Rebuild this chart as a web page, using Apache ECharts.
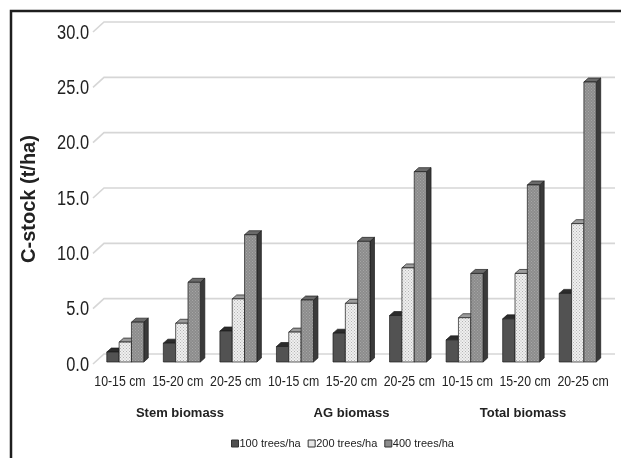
<!DOCTYPE html>
<html>
<head>
<meta charset="utf-8">
<script src="https://cdn.jsdelivr.net/npm/echarts@6/dist/echarts.min.js"></script>
<style>
  html, body { margin: 0; padding: 0; background: #fff; }
  #chart { width: 621px; height: 458px; }
</style>
</head>
<body>
<div id="chart"></div>
<script>
// Carbon stock by stem diameter class, grouped by biomass component
const categories = ['10-15 cm', '15-20 cm', '20-25 cm',
                    '10-15 cm', '15-20 cm', '20-25 cm',
                    '10-15 cm', '15-20 cm', '20-25 cm'];
const groups = ['Stem biomass', 'AG biomass', 'Total biomass'];
const seriesNames = ['100 trees/ha', '200 trees/ha', '400 trees/ha'];
const d100 = [0.9, 1.7, 2.8, 1.4, 2.6, 4.2, 2.0, 3.9, 6.2];
const d200 = [1.8, 3.5, 5.7, 2.7, 5.3, 8.5, 4.0, 8.0, 12.5];
const d400 = [3.6, 7.2, 11.5, 5.6, 10.9, 17.2, 8.0, 16.0, 25.3];
const yTicks = [0, 5, 10, 15, 20, 25, 30];

const SANS = '"Liberation Sans", Arial, sans-serif';
const NARROW_SCALE = 0.82;       // horizontal squeeze for the condensed tick text

// small tiled textures for the bar faces
function dotPattern(base, dot, size) {
  const c = document.createElement('canvas');
  c.width = size; c.height = size;
  const g = c.getContext('2d');
  g.fillStyle = base; g.fillRect(0, 0, size, size);
  g.fillStyle = dot;
  g.fillRect(0, 0, 1, 1);
  g.fillRect(size / 2, size / 2, 1, 1);
  return { image: c, repeat: 'repeat' };
}

const faceStyles = [
  { front: '#525252', top: '#2c2c2c', side: '#262626', legend: '#505050' },
  { front: dotPattern('#efefef', '#b4b4b4', 3), top: '#9c9c9c', side: '#6a6a6a', legend: '#e6e6e6' },
  { front: dotPattern('#8c8c8c', '#a6a6a6', 3), top: '#6a6a6a', side: '#3a3a3a', legend: '#8c8c8c' }
];

const DX = 4.5, DY = 4;          // depth offset of the bar prisms
const BAR_SHARE = 0.218;         // width of one bar relative to the category band

function makeBarSeries(k, values) {
  const st = faceStyles[k];
  return {
    name: seriesNames[k],
    type: 'custom',
    xAxisIndex: 1,
    yAxisIndex: 1,
    data: values.map((v, i) => [i, v]),
    encode: { x: 0, y: 1 },
    itemStyle: { color: st.legend },
    z: 3,
    renderItem: function (params, api) {
      const i = api.value(0), v = api.value(1);
      const base = api.coord([i, 0]);
      const top = api.coord([i, v]);
      const band = api.size([1, 0])[0];
      const bw = band * BAR_SHARE;
      const x = base[0] - 1.5 * bw + k * bw;
      const by = base[1], ty = top[1];
      const stroke = { stroke: '#1c1c1c', lineWidth: 0.7 };
      return {
        type: 'group',
        children: [
          { type: 'polygon', shape: { points: [[x + bw, ty], [x + bw + DX, ty - DY], [x + bw + DX, by - DY], [x + bw, by]] },
            style: Object.assign({ fill: st.side }, stroke) },
          { type: 'polygon', shape: { points: [[x, ty], [x + DX, ty - DY], [x + bw + DX, ty - DY], [x + bw, ty]] },
            style: Object.assign({ fill: st.top }, stroke) },
          { type: 'rect', shape: { x: x, y: ty, width: bw, height: by - ty },
            style: Object.assign({ fill: st.front }, stroke) }
        ]
      };
    }
  };
}

// back-wall gridlines with the short side-wall segment on the left, plus the value labels
const gridSeries = {
  type: 'custom',
  xAxisIndex: 0,
  yAxisIndex: 0,
  silent: true,
  z: 1,
  data: yTicks.map(t => [0, t]),
  encode: { x: 0, y: 1 },
  renderItem: function (params, api) {
    const t = api.value(1);
    const y = api.coord([0, t])[1] - 1;
    const cs = params.coordSys;
    const x0 = cs.x + 2;
    return {
      type: 'group',
      children: [
        { type: 'polyline',
          shape: { points: [[x0, y], [x0 + 11, y - 10], [cs.x + cs.width + 3, y - 10]] },
          style: { fill: null, stroke: '#d6d6d6', lineWidth: 1.6 } },
        { type: 'text', x: cs.x - 2, y: y + 1, scaleX: NARROW_SCALE,
          style: { text: t.toFixed(1), x: 0, y: 0, align: 'right', verticalAlign: 'middle',
                   font: '20px ' + SANS, fill: '#222' } }
      ]
    };
  }
};

// category labels along the front edge of the floor
const categoryLabelSeries = {
  type: 'custom',
  xAxisIndex: 0,
  yAxisIndex: 0,
  silent: true,
  z: 2,
  data: categories.map((c, i) => [i, 0]),
  encode: { x: 0, y: 1 },
  renderItem: function (params, api) {
    const i = api.value(0);
    const p = api.coord([i, 0]);
    return {
      type: 'text', x: p[0], y: p[1] + 17, scaleX: NARROW_SCALE,
      style: { text: categories[i], x: 0, y: 0, align: 'center', verticalAlign: 'middle',
               font: '15px ' + SANS, fill: '#222' }
    };
  }
};

const chart = echarts.init(document.getElementById('chart'), null, { renderer: 'canvas' });

chart.setOption({
  animation: false,
  backgroundColor: '#ffffff',
  grid: [
    { left: 91, right: 9, top: 33, bottom: 93 },   // front plane: axis labels
    { left: 97, right: 15, top: 30, bottom: 96 }   // bar plane
  ],
  xAxis: [
    {
      type: 'category', gridIndex: 0, data: categories,
      axisLine: { show: false }, axisTick: { show: false }, axisLabel: { show: false }
    },
    {
      type: 'category', gridIndex: 1, data: categories, show: false
    }
  ],
  yAxis: [
    {
      type: 'value', gridIndex: 0, min: 0, max: 30, interval: 5,
      axisLine: { show: false }, axisTick: { show: false }, splitLine: { show: false },
      axisLabel: { show: false },
      name: 'C-stock (t/ha)', nameLocation: 'middle', nameGap: 52,
      nameTextStyle: { color: '#222', fontFamily: SANS, fontSize: 20, fontWeight: 'bold' }
    },
    {
      type: 'value', gridIndex: 1, min: 0, max: 30, interval: 5, show: false
    }
  ],
  legend: {
    bottom: 4,
    left: 226,
    itemWidth: 7, itemHeight: 7, itemGap: 7,
    icon: 'rect',
    textStyle: { color: '#222', fontFamily: SANS, fontSize: 11, padding: [0, 0, 0, -4] },
    data: seriesNames.map((n, k) => ({
      name: n,
      itemStyle: { color: faceStyles[k].legend, borderColor: '#333', borderWidth: 1 }
    }))
  },
  graphic: [
    // frame around the figure
    { type: 'rect', shape: { x: 11, y: 11, width: 700, height: 600 },
      style: { fill: null, stroke: '#1e1e1e', lineWidth: 2.5 }, z: 10 },
    // group captions under the category labels
    ...groups.map((g, j) => ({
      type: 'text',
      x: 180 + j * 171.5, y: 413,
      style: { text: g, fill: '#222', font: 'bold 13px ' + SANS, align: 'center', verticalAlign: 'middle' }
    }))
  ],
  series: [gridSeries, categoryLabelSeries,
           makeBarSeries(0, d100), makeBarSeries(1, d200), makeBarSeries(2, d400)]
});
</script>
</body>
</html>
